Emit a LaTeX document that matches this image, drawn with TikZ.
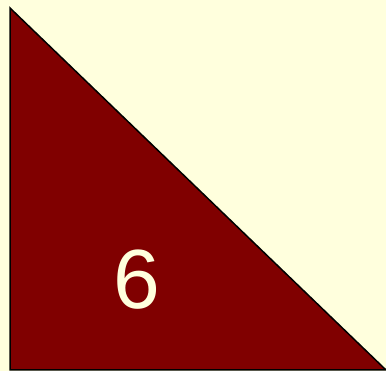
\documentclass[tikz,border=0pt]{standalone}
\usepackage{fontspec}
\setmainfont{Liberation Sans}
\usetikzlibrary{positioning}
\definecolor{paper}{HTML}{FFFFDD}
\definecolor{wine}{HTML}{800000}
\begin{document}
\begin{tikzpicture}[x=1pt,y=1pt,
  tri/.style={draw=black,fill=wine,line width=1.5pt,line join=miter},
  numlabel/.style={text=paper,font=\fontsize{84}{84}\selectfont,inner sep=0pt}]
\fill[paper] (0,0) rectangle (386,371);
\useasboundingbox (0,0) rectangle (386,371);
\coordinate (apex) at (10,363);
\coordinate (corner) at (10,1);
\coordinate (foot) at (386,1);
\draw[tri] (apex) -- (corner) -- (foot) -- cycle;
\node[numlabel] (six) at (137,91) {6};
\end{tikzpicture}
\end{document}
